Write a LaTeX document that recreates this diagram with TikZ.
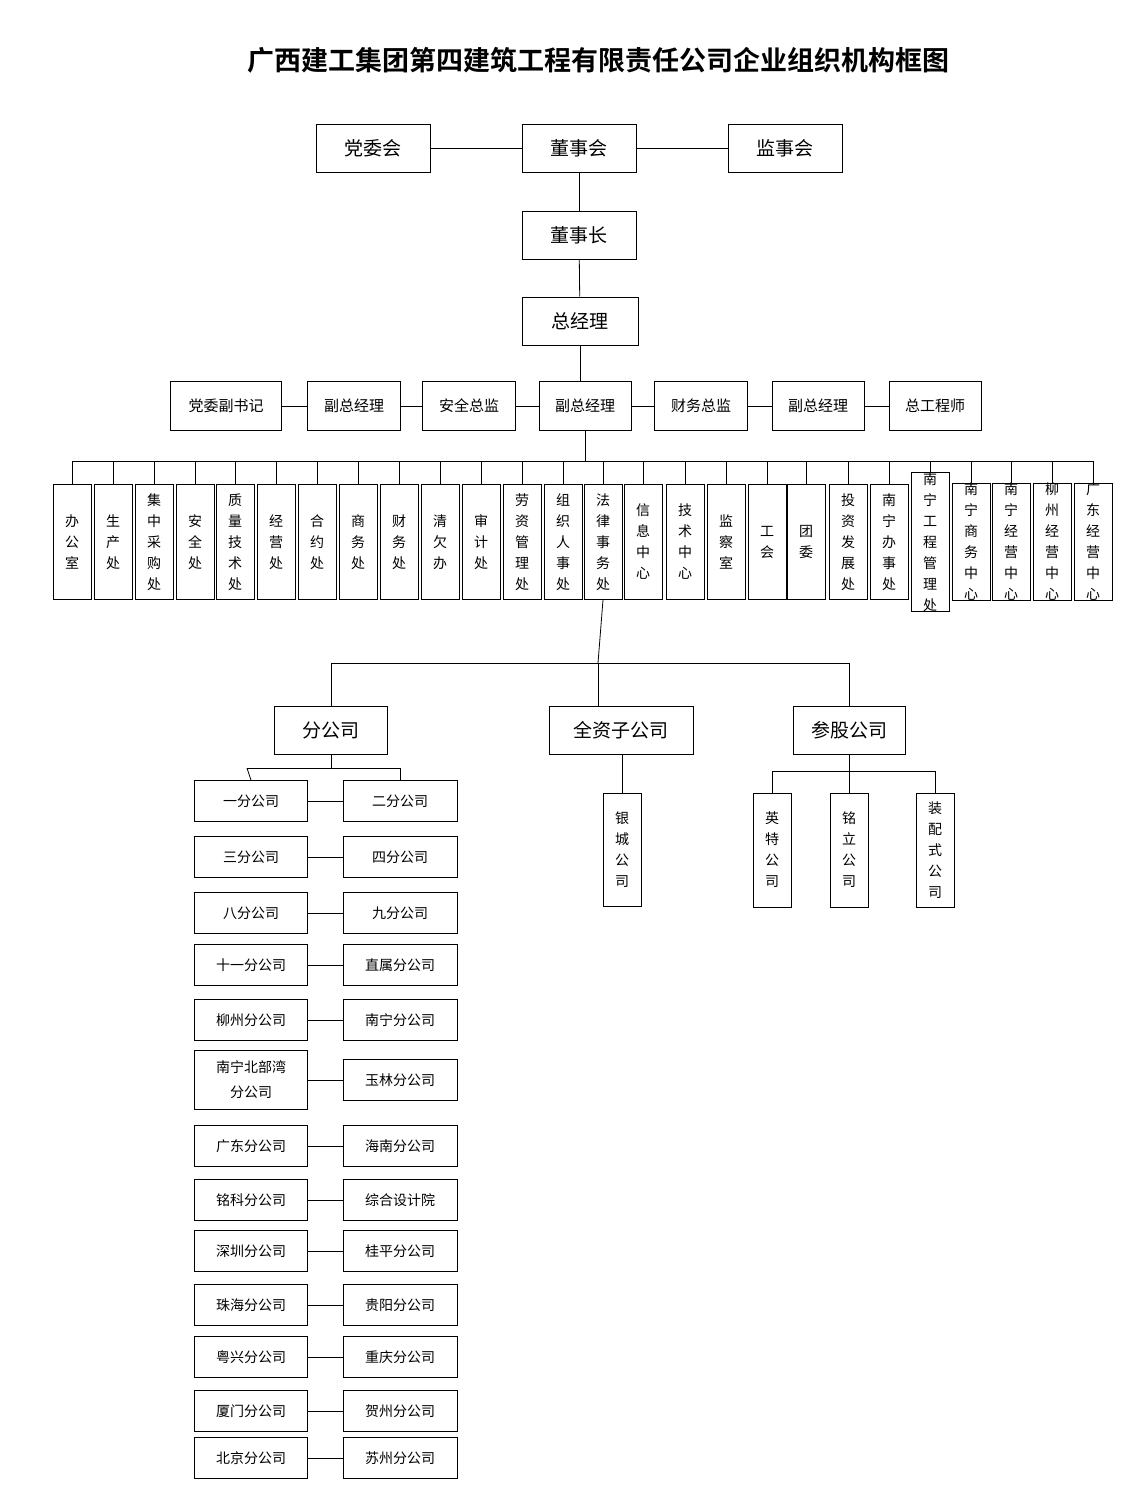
\documentclass[tikz,border=0pt]{standalone}
\usepackage{fontspec}
\setmainfont{Noto Sans CJK SC}
\newfontfamily\titlefont{Noto Sans CJK SC Bold}
\begin{document}
\begin{tikzpicture}[x=1pt,y=-1pt,
 bx/.style={draw,line width=0.8pt,minimum width=#1,inner sep=0pt,font=\fontsize{14}{16}\selectfont},
 big/.style={draw,line width=0.8pt,minimum width=114pt,minimum height=48pt,font=\fontsize{19}{22}\selectfont},
 mid/.style={draw,line width=0.8pt,minimum height=49pt,inner sep=0pt,font=\fontsize{15}{18}\selectfont},
 vt/.style={draw,line width=0.8pt,minimum width=38pt,minimum height=115pt,align=center,inner sep=0pt,font=\fontsize{14}{21}\selectfont},
 br/.style={draw,line width=0.8pt,minimum width=113pt,minimum height=41pt,inner sep=0pt,font=\fontsize{14}{16}\selectfont},
 ln/.style={line width=0.8pt}]
\fill[white] (0,0) rectangle (1134,1512);
\useasboundingbox (0,0) rectangle (1134,1512);
\node[font=\titlefont\fontsize{27}{30}\selectfont] (title) at (598,60) {广西建工集团第四建筑工程有限责任公司企业组织机构框图};
\node[big] (dwh) at (373,148) {党委会};
\node[big] (dsh) at (579,148) {董事会};
\node[big] (jsh) at (785,148) {监事会};
\node[big] (dsz) at (579,235) {董事长};
\node[big,minimum width=116pt] (zjl) at (580,321) {总经理};
\draw[ln] (dwh) -- (dsh); \draw[ln] (dsh) -- (jsh);
\draw[ln] (dsh) -- (dsz); \draw[ln] (dsz) -- (zjl);
% vice row
\node[mid,minimum width=111pt] (v1) at (226,406) {党委副书记};
\node[mid,minimum width=93pt] (v2) at (354,406) {副总经理};
\node[mid,minimum width=93pt] (v3) at (469,406) {安全总监};
\node[mid,minimum width=92pt] (v4) at (585,406) {副总经理};
\node[mid,minimum width=93pt] (v5) at (701,406) {财务总监};
\node[mid,minimum width=92pt] (v6) at (818,406) {副总经理};
\node[mid,minimum width=92pt] (v7) at (935,406) {总工程师};
\draw[ln] (v1)--(v2) (v2)--(v3) (v3)--(v4) (v4)--(v5) (v5)--(v6) (v6)--(v7);
\draw[ln] (zjl.south) -- (zjl.south |- v4.north);
% departments
\coordinate (bus) at (585,461);
\draw[ln] (v4.south) -- (bus);
\draw[ln] (72,461) -- (1093,461);
\foreach \n/\x/\t in {d1/72/办\\公\\室, d2/113/生\\产\\处, d3/154/集\\中\\采\\购\\处, d4/195/安\\全\\处, d5/235/质\\量\\技\\术\\处, d6/276/经\\营\\处, d7/317/合\\约\\处, d8/358/商\\务\\处, d9/399/财\\务\\处, d10/440/清\\欠\\办, d11/481/审\\计\\处, d12/522/劳\\资\\管\\理\\处, d13/563/组\\织\\人\\事\\处, d14/603/法\\律\\事\\务\\处, d15/643/信\\息\\中\\心, d16/685/技\\术\\中\\心, d17/726/监\\察\\室, d18/767/工\\会, d19/806/团\\委, d20/848/投\\资\\发\\展\\处, d21/889/南\\宁\\办\\事\\处, d22/930/南\\宁\\工\\程\\管\\理\\处, d23/971/南\\宁\\商\\务\\中\\心, d24/1011/南\\宁\\经\\营\\中\\心, d25/1052/柳\\州\\经\\营\\中\\心, d26/1093/广\\东\\经\\营\\中\\心}{
 \node[vt] (\n) at (\x,542) {\t};
 \draw[ln] (\n.north) -- (\x,461);
}
% subsidiaries
\node[big,minimum width=113pt] (fgs) at (331,730) {分公司};
\node[big,minimum width=144pt] (qz) at (621,730) {全资子公司};
\node[big,minimum width=112pt] (cg) at (849,730) {参股公司};
\coordinate (j1) at (598,663);
\draw[ln] (d14.south) -- (598,663);
\draw[ln] (331,663) -- (849,663);
\draw[ln] (331,663) -- (fgs.north);
\draw[ln] (598,663) -- (598,706);
\draw[ln] (849,663) -- (cg.north);
\node[vt,minimum height=113pt] (yc) at (622,850) {银\\城\\公\\司};
\draw[ln] (qz.south -| yc.north) -- (yc.north);
\node[vt,minimum height=114pt] (yt) at (772,850) {英\\特\\公\\司};
\node[vt,minimum height=114pt] (ml) at (849,850) {铭\\立\\公\\司};
\node[vt,minimum height=114pt] (zp) at (935,850) {装\\配\\式\\公\\司};
\draw[ln] (cg.south) -- (849,771);
\draw[ln] (772,771) -- (935,771);
\draw[ln] (772,771)--(yt.north) (849,771)--(ml.north) (935,771)--(zp.north);
% branch pairs
\draw[ln] (fgs.south) -- (331,768);
\draw[ln] (247,768) -- (400,768);
\foreach \i/\y/\a/\b in {1/801/一分公司/二分公司, 2/857/三分公司/四分公司, 3/913/八分公司/九分公司, 4/965/十一分公司/直属分公司, 5/1020/柳州分公司/南宁分公司, 7/1146/广东分公司/海南分公司, 8/1200/铭科分公司/综合设计院, 9/1251/深圳分公司/桂平分公司, 10/1305/珠海分公司/贵阳分公司, 11/1357/粤兴分公司/重庆分公司, 12/1411/厦门分公司/贺州分公司, 13/1458/北京分公司/苏州分公司}{
 \node[br] (a\i) at (251,\y) {\a};
 \node[br,minimum width=114pt] (b\i) at (400,\y) {\b};
 \draw[ln] (a\i) -- (b\i);
}
\node[br,minimum height=59pt,align=center,font=\fontsize{14}{25}\selectfont] (a6) at (251,1080) {南宁北部湾\\分公司};
\node[br,minimum width=114pt] (b6) at (400,1080) {玉林分公司};
\draw[ln] (a6) -- (b6);
\draw[ln] (247,768) -- (a1.north);
\draw[ln] (400,768) -- (b1.north);
\end{tikzpicture}
\end{document}
